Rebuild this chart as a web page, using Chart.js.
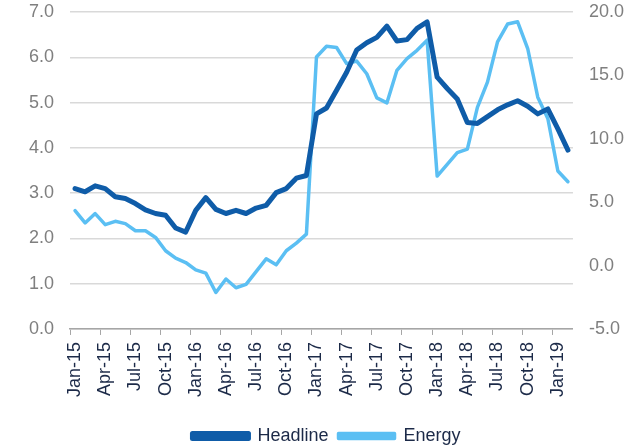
<!DOCTYPE html>
<html>
<head>
<meta charset="utf-8">
<script src="https://cdn.jsdelivr.net/npm/chart.js@4/dist/chart.umd.min.js"></script>
<style>
  html, body { margin: 0; padding: 0; background: #fff; }
  #wrap { width: 642px; height: 446px; position: relative; }
</style>
</head>
<body>
<div id="wrap"><canvas id="cpiChart"></canvas></div>
<script>
const monthNames = ['Jan', 'Feb', 'Mar', 'Apr', 'May', 'Jun', 'Jul', 'Aug', 'Sep', 'Oct', 'Nov', 'Dec'];
const years = ['15', '16', '17', '18', '19'];
const monthCount = 50; // Jan-15 .. Feb-19

// headline inflation, left axis (%)
const headline = [3.10, 3.03, 3.16, 3.10, 2.92, 2.88, 2.77, 2.63, 2.55, 2.51,
  2.23, 2.14, 2.62, 2.90, 2.64, 2.55, 2.62, 2.55, 2.67, 2.73,
  3.01, 3.10, 3.33, 3.39, 4.75, 4.88, 5.27, 5.67, 6.16, 6.32,
  6.44, 6.69, 6.36, 6.39, 6.64, 6.78, 5.56, 5.31, 5.08, 4.56,
  4.54, 4.69, 4.84, 4.95, 5.04, 4.92, 4.75, 4.86, 4.42, 3.95];

// energy inflation, right axis (%)
const energy = [4.34, 3.36, 4.10, 3.23, 3.49, 3.31, 2.75, 2.75, 2.22, 1.17,
  0.58, 0.24, -0.34, -0.60, -2.12, -1.06, -1.75, -1.48, -0.48, 0.53,
  0.06, 1.17, 1.77, 2.48, 16.45, 17.30, 17.20, 15.93, 16.13, 15.13,
  13.23, 12.83, 15.40, 16.32, 16.98, 17.78, 7.06, 7.99, 8.91, 9.18,
  12.48, 14.47, 17.64, 19.05, 19.23, 17.12, 13.28, 11.60, 7.46, 6.61];

const labels = [];
for (let i = 0; i < monthCount; i++) {
  labels.push(monthNames[i % 12] + '-' + years[Math.floor(i / 12)]);
}

const axisGrey = '#7f7f7f';
const navy = '#1c2a48';
const fontFamily = '"Liberation Sans", Arial, sans-serif';
const clear = 'rgba(0,0,0,0)';

const ctx = document.getElementById('cpiChart').getContext('2d');
new Chart(ctx, {
  type: 'line',
  data: {
    labels,
    datasets: [{
      label: 'Headline',
      data: headline,
      yAxisID: 'y',
      borderColor: '#0f5ca8',
      backgroundColor: '#0f5ca8',
      borderWidth: 5,
      pointRadius: 0,
      tension: 0,
      borderJoinStyle: 'round',
      borderCapStyle: 'round'
    }, {
      label: 'Energy',
      data: energy,
      yAxisID: 'y1',
      borderColor: '#5bbff3',
      backgroundColor: '#5bbff3',
      borderWidth: 3.5,
      pointRadius: 0,
      tension: 0,
      borderJoinStyle: 'round',
      borderCapStyle: 'round'
    }]
  },
  options: {
    responsive: true,
    maintainAspectRatio: false,
    animation: false,
    layout: { padding: { left: 29, right: 18, top: 12, bottom: -9 } },
    plugins: {
      tooltip: { enabled: false },
      legend: {
        position: 'bottom',
        labels: {
          color: navy,
          font: { family: fontFamily, size: 18 },
          boxWidth: 56,
          boxHeight: 5,
          padding: 10
        }
      }
    },
    scales: {
      x: {
        offset: true,
        grid: {
          offset: true,
          drawOnChartArea: false,
          drawTicks: true,
          tickLength: 6,
          tickColor: c => (c.index % 3 === 0 ? '#a6a6a6' : clear)
        },
        border: { display: true, color: '#a6a6a6', width: 1.5 },
        ticks: {
          autoSkip: false,
          minRotation: 90,
          maxRotation: 90,
          padding: 7,
          color: navy,
          font: { family: fontFamily, size: 18 },
          callback: (v, i) => (i % 3 === 0 ? labels[i] : '')
        },
        title: { display: true, text: '', padding: 0, font: { size: 18, lineHeight: '13px' } }
      },
      y: {
        position: 'left',
        min: 0,
        max: 7,
        ticks: {
          stepSize: 1,
          padding: 0,
          color: axisGrey,
          font: { family: fontFamily, size: 18 },
          callback: v => v.toFixed(1)
        },
        grid: { color: '#d9d9d9', lineWidth: 1.5, drawTicks: true, tickLength: 16, tickColor: clear },
        border: { display: false }
      },
      y1: {
        position: 'right',
        min: -5,
        max: 20,
        ticks: {
          stepSize: 5,
          padding: 0,
          color: axisGrey,
          font: { family: fontFamily, size: 18 },
          callback: v => v.toFixed(1)
        },
        grid: { drawOnChartArea: false, drawTicks: true, tickLength: 16, tickColor: clear },
        border: { display: false }
      }
    }
  }
});
</script>
</body>
</html>
